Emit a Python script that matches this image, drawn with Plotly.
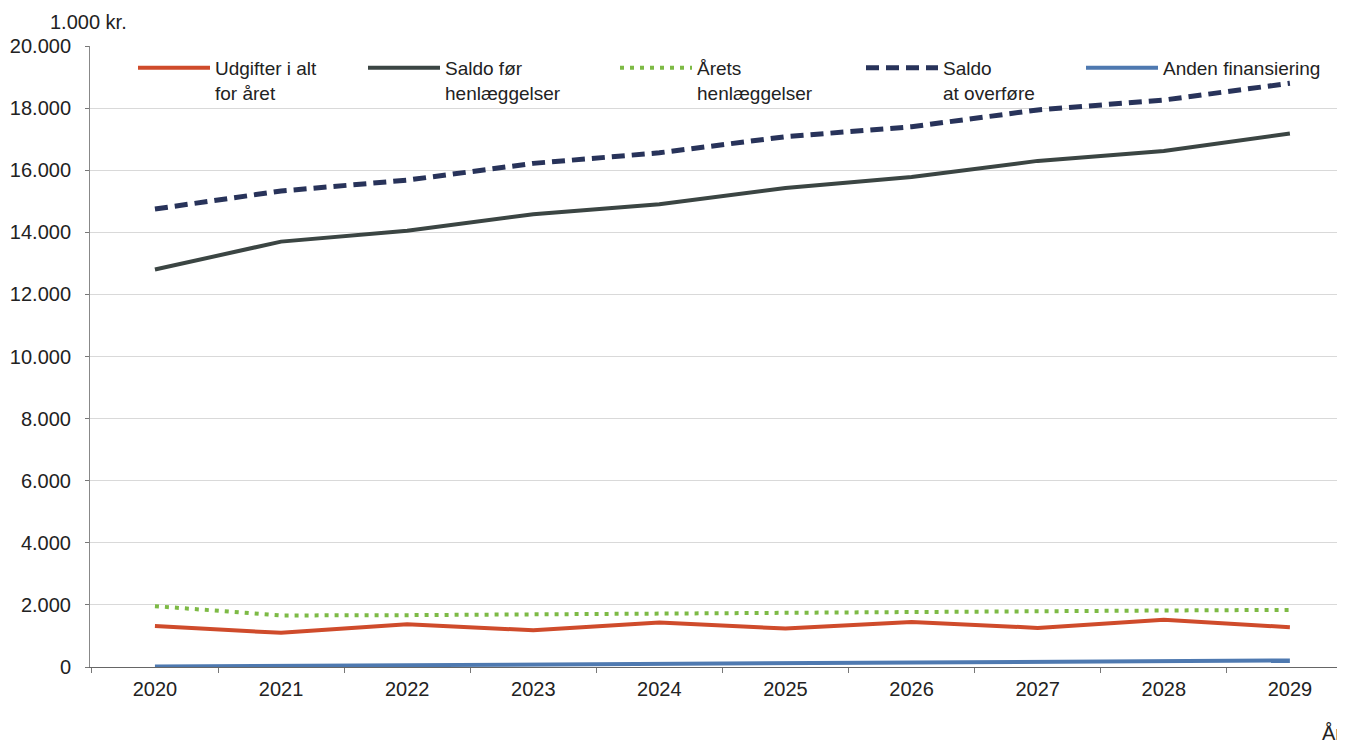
import plotly.graph_objects as go

years = ["2020", "2021", "2022", "2023", "2024", "2025", "2026", "2027", "2028", "2029"]
udgifter = [1320, 1100, 1380, 1180, 1430, 1240, 1450, 1260, 1520, 1280]
saldo_foer = [12800, 13700, 14050, 14580, 14900, 15430, 15780, 16300, 16620, 17180]
henlaeggelser = [1960, 1660, 1670, 1700, 1720, 1750, 1770, 1790, 1820, 1840]
saldo_overfoere = [14750, 15330, 15680, 16220, 16560, 17080, 17400, 17940, 18260, 18800]
anden_fin = [15, 35, 55, 75, 100, 120, 140, 165, 185, 210]

yticks = list(range(0, 20001, 2000))

FONT = "Liberation Sans, Arial, sans-serif"
OFF = 8  # page body margin
W, H = 1337, 735
L, R, T, B = 82, 0, 38, 76
PW, PH = W - L - R, H - T - B

fig = go.Figure()
series = [
    ("Udgifter i alt<br>for året", udgifter, dict(color="#CF4B2B", width=4), "legend"),
    ("Saldo før<br>henlæggelser", saldo_foer, dict(color="#3B4543", width=4), "legend2"),
    ("Årets<br>henlæggelser", henlaeggelser, dict(color="#7DBA45", width=4, dash="4px,6px"), "legend3"),
    ("Saldo<br>at overføre", saldo_overfoere, dict(color="#28335A", width=5, dash="13px,7px"), "legend4"),
    ("Anden finansiering", anden_fin, dict(color="#4E79B0", width=4), "legend5"),
]
for name, vals, line, lg in series:
    fig.add_trace(go.Scatter(x=years, y=vals, mode="lines", name=name, line=line,
                             legend=lg, hoverinfo="x+y+name"))

# page x where each legend symbol starts
legend_x = [140, 370, 622, 868, 1088]
common = dict(xanchor="left", yanchor="top",
              bgcolor="rgba(0,0,0,0)", borderwidth=0, itemwidth=72, valign="top",
              font=dict(family=FONT, size=19, color="#222222"), tracegroupgap=0)
legends = {}
for i, lx in enumerate(legend_x):
    key = "legend" if i == 0 else f"legend{i+1}"
    px = lx - 7 - OFF - L
    legends[key] = dict(x=px / PW, y=(H - B - (49 - OFF - T) - T) / PH, **common)

fig.update_layout(
    width=W, height=H,
    margin=dict(l=L, r=R, t=T, b=B, autoexpand=False),
    paper_bgcolor="white", plot_bgcolor="white",
    separators=",.",
    font=dict(family=FONT, size=20, color="#222222"),
    showlegend=True,
    **legends,
    xaxis=dict(
        type="category", range=[-0.515, 9.437], tickson="boundaries",
        ticks="outside", ticklen=5, tickcolor="#777777", tickangle=0,
        showline=True, linecolor="#666666", linewidth=1.2,
        showgrid=False, tickfont=dict(family=FONT, size=20, color="#222222"),
        ticklabelstandoff=4,
    ),
    yaxis=dict(
        range=[0, 20000], tickvals=yticks, tickformat=",d",
        ticks="outside", ticklen=4, tickcolor="#777777",
        showline=True, linecolor="#888888", linewidth=1,
        showgrid=True, gridcolor="#D9D9D9", gridwidth=1, zeroline=False,
        tickfont=dict(family=FONT, size=20, color="#222222"),
        ticklabelstandoff=10,
    ),
    annotations=[
        dict(text="1.000 kr.", xref="paper", yref="paper", x=(48 - OFF - L) / PW, y=1.0, yshift=24,
             xanchor="left", yanchor="middle", showarrow=False,
             font=dict(family=FONT, size=20, color="#222222")),
        dict(text="År", xref="paper", yref="paper", x=(1320 - OFF - L) / PW, y=0, yshift=-66,
             xanchor="left", yanchor="middle", showarrow=False,
             font=dict(family=FONT, size=20, color="#222222")),
    ],
)

fig.write_html("out.html")
